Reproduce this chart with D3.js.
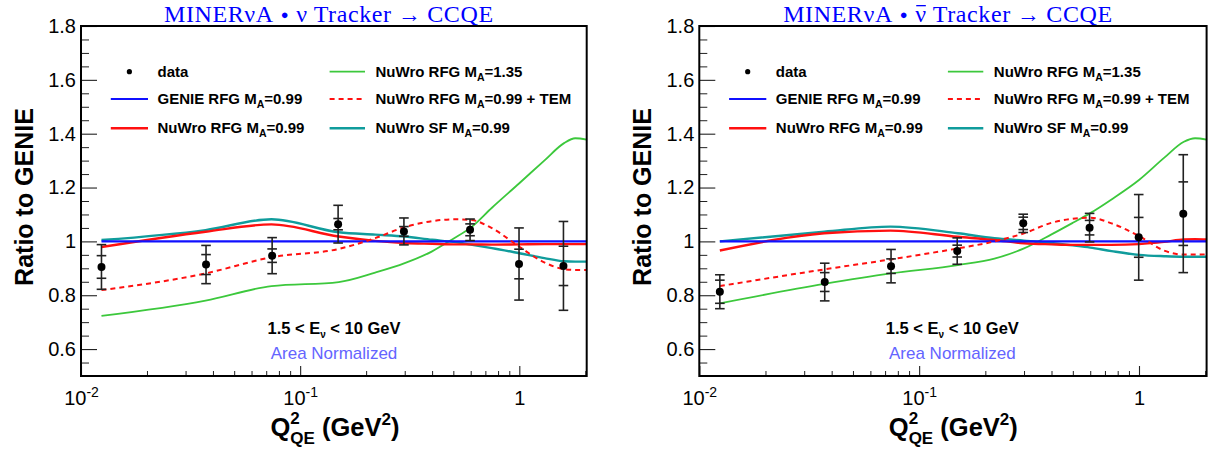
<!DOCTYPE html>
<html>
<head>
<meta charset="utf-8">
<script src="https://cdn.jsdelivr.net/npm/d3@7"></script>
<style>
  body { margin: 0; background: #fff; }
  svg text { font-family: "Liberation Sans", Arial, Helvetica, sans-serif; white-space: pre; }
</style>
</head>
<body>
<svg id="chart" width="1212" height="450"></svg>
<script>
// ---- measured ratios to GENIE, per Q2_QE bin ----
const q2Bins = [0.0124, 0.0372, 0.0745, 0.149, 0.2975, 0.596, 0.997, 1.59];

const nuRatio   = [0.905, 0.914, 0.947, 1.064, 1.037, 1.043, 0.916, 0.909];
const nuStatErr = [0.042, 0.037, 0.025, 0.021, 0.018, 0.022, 0.055, 0.073];
const nuTotErr  = [0.083, 0.071, 0.067, 0.070, 0.050, 0.040, 0.134, 0.165];

const nubarRatio   = [0.813, 0.849, 0.908, 0.964, 1.067, 1.051, 1.015, 1.103];
const nubarStatErr = [0.043, 0.035, 0.027, 0.022, 0.023, 0.027, 0.074, 0.118];
const nubarTotErr  = [0.063, 0.070, 0.062, 0.049, 0.034, 0.053, 0.159, 0.219];

// ---- model predictions (ratio to GENIE), sampled in Q2_QE ----
const modelQ2 = [0.0124, 0.037, 0.074, 0.15, 0.22, 0.30, 0.40, 0.50, 0.60, 0.75, 1.0, 1.3, 1.6, 1.8, 2.03];

const nuGenieRfg   = [1, 1, 1, 1, 1, 1, 1, 1, 1, 1, 1, 1, 1, 1, 1];
const nuNuwroRfg   = [0.979, 1.036, 1.063, 1.018, 1.002, 0.994, 0.991, 0.989, 0.989, 0.988, 0.989, 0.990, 0.990, 0.990, 0.990];
const nuNuwroSf    = [1.005, 1.042, 1.082, 1.034, 1.025, 1.018, 1.006, 0.998, 0.988, 0.975, 0.956, 0.938, 0.926, 0.925, 0.925];
const nuNuwroTem   = [0.819, 0.881, 0.941, 0.972, 1.012, 1.053, 1.075, 1.082, 1.080, 1.049, 0.980, 0.922, 0.897, 0.894, 0.894];
const nuNuwroMa135 = [0.723, 0.780, 0.834, 0.849, 0.884, 0.919, 0.963, 1.010, 1.051, 1.125, 1.216, 1.300, 1.365, 1.383, 1.378];

const nubarGenieRfg   = [1, 1, 1, 1, 1, 1, 1, 1, 1, 1, 1, 1, 1, 1, 1];
const nubarNuwroRfg   = [0.966, 1.030, 1.040, 1.017, 1.005, 0.993, 0.989, 0.987, 0.987, 0.987, 0.990, 0.998, 1.007, 1.008, 1.007];
const nubarNuwroSf    = [1.000, 1.036, 1.055, 1.030, 1.012, 1.003, 0.994, 0.985, 0.977, 0.964, 0.950, 0.945, 0.943, 0.943, 0.943];
const nubarNuwroTem   = [0.834, 0.896, 0.933, 0.974, 1.000, 1.030, 1.069, 1.084, 1.088, 1.067, 1.020, 0.966, 0.951, 0.951, 0.952];
const nubarNuwroMa135 = [0.770, 0.842, 0.881, 0.912, 0.936, 0.974, 1.026, 1.069, 1.105, 1.156, 1.228, 1.310, 1.370, 1.383, 1.378];

// ---- axes ----
const yMajorTicks = [0.6, 0.8, 1, 1.2, 1.4, 1.6, 1.8];
const yMinorTicks = d3.range(0.5, 1.8001, 0.05).map(v => +v.toFixed(2));
const xMajorTicks = [0.01, 0.1, 1];
const xMinorTicks = [0.02, 0.03, 0.04, 0.05, 0.06, 0.07, 0.08, 0.09,
                     0.2, 0.3, 0.4, 0.5, 0.6, 0.7, 0.8, 0.9, 2];
const xTickLabels = [["10", "-2"], ["10", "-1"], ["1", ""]];
const yDomain = [0.5, 1.8];
const xDomain = [0.01, 2.03];

// ---- legend entries ----
const legendEntries = [
  { key: "data",  col: 0, row: 0, pre: "data", sub: "", post: "" },
  { key: "genie", col: 0, row: 1, pre: "GENIE RFG M", sub: "A", post: "=0.99" },
  { key: "rfg",   col: 0, row: 2, pre: "NuWro RFG M", sub: "A", post: "=0.99" },
  { key: "ma135", col: 1, row: 0, pre: "NuWro RFG M", sub: "A", post: "=1.35" },
  { key: "tem",   col: 1, row: 1, pre: "NuWro RFG M", sub: "A", post: "=0.99 + TEM" },
  { key: "sf",    col: 1, row: 2, pre: "NuWro SF M",  sub: "A", post: "=0.99" }
];

const styles = {
  genie: { color: "#1010ff", width: 2.2, dash: null },
  rfg:   { color: "#ff1010", width: 2.4, dash: null },
  sf:    { color: "#109c9c", width: 2.4, dash: null },
  tem:   { color: "#ff1010", width: 2.0, dash: "5,4" },
  ma135: { color: "#3cc83c", width: 1.8, dash: null }
};

const panels = [
  { left: 81, right: 586.7, bar: false,
    ratio: nuRatio, stat: nuStatErr, tot: nuTotErr,
    models: { ma135: nuNuwroMa135, sf: nuNuwroSf, rfg: nuNuwroRfg, genie: nuGenieRfg, tem: nuNuwroTem } },
  { left: 699.3, right: 1206.6, bar: true,
    ratio: nubarRatio, stat: nubarStatErr, tot: nubarTotErr,
    models: { ma135: nubarNuwroMa135, sf: nubarNuwroSf, rfg: nubarNuwroRfg, genie: nubarGenieRfg, tem: nubarNuwroTem } }
];

const TOP = 26, BOTTOM = 376;
const svg = d3.select("#chart");

// Lays out a run of text segments (with sub/superscripts) and returns its width.
function richText(parent, x, y, segs, opts) {
  const o = Object.assign({ anchor: "start", family: null, weight: "normal", fill: "#000" }, opts);
  const g = parent.append("g");
  let cx = 0, stackW = 0;
  segs.forEach(s => {
    cx += s.gap || 0;
    const t = g.append("text")
      .attr("x", cx).attr("y", s.dy || 0)
      .attr("font-size", s.size)
      .attr("font-weight", s.weight || o.weight)
      .attr("fill", s.fill || o.fill)
      .text(s.t);
    if (o.family) t.style("font-family", o.family);
    if (o.spacing) t.style("letter-spacing", o.spacing + "px");
    const w = t.node().getComputedTextLength();
    if (s.over) {
      g.append("line")
        .attr("x1", cx + w * 0.08).attr("x2", cx + w * 0.92)
        .attr("y1", (s.dy || 0) - s.size * 0.66).attr("y2", (s.dy || 0) - s.size * 0.66)
        .attr("stroke", s.fill || o.fill).attr("stroke-width", 1.3);
    }
    if (s.stack) { stackW = Math.max(stackW, w); }
    else { cx += Math.max(w, stackW); stackW = 0; }
  });
  const shift = o.anchor === "middle" ? -cx / 2 : (o.anchor === "end" ? -cx : 0);
  g.attr("transform", `translate(${x + shift},${y})`);
  return cx;
}

panels.forEach(p => {
  const g = svg.append("g");
  const x = d3.scaleLog().domain(xDomain).range([p.left, p.right]);
  const y = d3.scaleLinear().domain(yDomain).range([BOTTOM, TOP]);
  const cx = (p.left + p.right) / 2;

  // title
  const serif = "'Liberation Serif', 'Times New Roman', serif";
  richText(g, cx - 5, 21.5, [
    { t: "MINERνA", size: 24 },
    { t: "●", size: 13, dy: -3, gap: 7 },
    { t: "ν", size: 24, over: p.bar, gap: 7 },
    { t: "Tracker", size: 24, gap: 6 },
    { t: "→", size: 23, gap: 6 },
    { t: "CCQE", size: 24, gap: 6 }
  ], { anchor: "middle", family: serif, fill: "#0000ff", spacing: 0.6 });

  // y axis: minor then major ticks, drawn inward
  g.append("g").attr("transform", `translate(${p.left},0)`)
    .call(d3.axisLeft(y).tickValues(yMinorTicks.filter(v => !yMajorTicks.some(m => Math.abs(m - v) < 1e-6)))
      .tickSize(-8).tickFormat(""))
    .call(a => a.select(".domain").remove())
    .call(a => a.selectAll("line").attr("stroke", "#222").attr("stroke-width", 1));
  g.append("g").attr("transform", `translate(${p.left},0)`)
    .call(d3.axisLeft(y).tickValues(yMajorTicks).tickSize(-16).tickPadding(5)
      .tickFormat(d => d === 1 ? "1" : d.toFixed(1)))
    .call(a => a.select(".domain").remove())
    .call(a => a.selectAll("line").attr("stroke", "#222").attr("stroke-width", 1.1))
    .call(a => a.selectAll("text").attr("font-size", 20).attr("fill", "#000")
      .style("font-family", "'Liberation Sans', Arial, sans-serif"));

  // x axis: minor then major ticks
  g.append("g").attr("transform", `translate(0,${BOTTOM})`)
    .call(d3.axisBottom(x).tickValues(xMinorTicks).tickSize(-5).tickFormat(""))
    .call(a => a.select(".domain").remove())
    .call(a => a.selectAll("line").attr("stroke", "#222").attr("stroke-width", 1));
  g.append("g").attr("transform", `translate(0,${BOTTOM})`)
    .call(d3.axisBottom(x).tickValues(xMajorTicks).tickSize(-10).tickPadding(15).tickFormat(""))
    .call(a => a.select(".domain").remove())
    .call(a => a.selectAll("line").attr("stroke", "#222").attr("stroke-width", 1.1))
    .call(a => a.selectAll("text").each(function (d, i) {
      const t = d3.select(this).attr("font-size", 20).attr("fill", "#000")
        .style("font-family", "'Liberation Sans', Arial, sans-serif");
      const [base, exp] = xTickLabels[i];
      t.append("tspan").text(base);
      if (exp) t.append("tspan").attr("font-size", 14).attr("dy", "-0.6em").text(exp);
    }));

  // model curves
  const line = d3.line()
    .x((d, i) => x(modelQ2[i]))
    .y(d => y(d))
    .curve(d3.curveMonotoneX);
  const clipId = "clip" + (p.bar ? 1 : 0);
  g.append("clipPath").attr("id", clipId).append("rect")
    .attr("x", p.left).attr("y", TOP).attr("width", p.right - p.left).attr("height", BOTTOM - TOP);
  ["ma135", "sf", "rfg", "genie", "tem"].forEach(k => {
    const s = styles[k];
    g.append("path").attr("clip-path", `url(#${clipId})`)
      .datum(p.models[k])
      .attr("d", line)
      .attr("fill", "none")
      .attr("stroke", s.color)
      .attr("stroke-width", s.width)
      .attr("stroke-dasharray", s.dash);
  });

  // data points with total and statistical error bars
  const capW = 4.8;
  const pts = g.append("g");
  q2Bins.forEach((q, i) => {
    const px = x(q);
    const v = p.ratio[i];
    [p.tot[i], p.stat[i]].forEach(e => {
      [v + e, v - e].forEach(end => {
        pts.append("line").attr("x1", px - capW).attr("x2", px + capW)
          .attr("y1", y(end)).attr("y2", y(end))
          .attr("stroke", "#222").attr("stroke-width", 1.6);
      });
    });
    pts.append("line").attr("x1", px).attr("x2", px)
      .attr("y1", y(v + p.tot[i])).attr("y2", y(v - p.tot[i]))
      .attr("stroke", "#222").attr("stroke-width", 1.6);
    pts.append("circle").attr("cx", px).attr("cy", y(v)).attr("r", 4).attr("fill", "#000");
  });

  // frame
  g.append("rect").attr("x", p.left).attr("y", TOP)
    .attr("width", p.right - p.left).attr("height", BOTTOM - TOP)
    .attr("fill", "none").attr("stroke", "#000").attr("stroke-width", 2);

  // legend
  const rowY = [TOP + 45.7, TOP + 73, TOP + 102.3];
  const colLine = [[29.8, 67], [248.6, 284]];
  const colText = [76.5, 294.5];
  legendEntries.forEach(e => {
    const ly = rowY[e.row];
    if (e.key === "data") {
      g.append("circle").attr("cx", p.left + (colLine[0][0] + colLine[0][1]) / 2).attr("cy", ly)
        .attr("r", 2.6).attr("fill", "#000");
    } else {
      const s = styles[e.key];
      g.append("line")
        .attr("x1", p.left + colLine[e.col][0]).attr("x2", p.left + colLine[e.col][1])
        .attr("y1", ly).attr("y2", ly)
        .attr("stroke", s.color).attr("stroke-width", s.width).attr("stroke-dasharray", s.dash);
    }
    const segs = [{ t: e.pre, size: 15 }];
    if (e.sub) segs.push({ t: e.sub, size: 10.5, dy: 4 });
    if (e.post) segs.push({ t: e.post, size: 15 });
    richText(g, p.left + colText[e.col], ly + 5, segs, { weight: "bold" });
  });

  // energy range and normalisation notes
  const noteX = p.left + 253;
  richText(g, noteX, 334, [
    { t: "1.5 < E", size: 16.5 },
    { t: "ν", size: 10, dy: 4 },
    { t: " < 10 GeV", size: 16.5 }
  ], { anchor: "middle", weight: "bold" });
  g.append("text").attr("x", noteX).attr("y", 358.5)
    .attr("text-anchor", "middle").attr("font-size", 17).attr("fill", "#6464ff")
    .text("Area Normalized");

  // axis titles
  g.append("text")
    .attr("transform", `translate(${p.left - 48},${(TOP + BOTTOM) / 2 - 4}) rotate(-90)`)
    .attr("text-anchor", "middle").attr("font-size", 25).attr("font-weight", "bold")
    .text("Ratio to GENIE");
  richText(g, p.left + 254, 436, [
    { t: "Q", size: 25.5 },
    { t: "2", size: 17, dy: -12, stack: true },
    { t: "QE", size: 17, dy: 8 },
    { t: " (GeV", size: 25.5 },
    { t: "2", size: 17, dy: -11 },
    { t: ")", size: 25.5 }
  ], { anchor: "middle", weight: "bold" });
});
</script>
</body>
</html>
